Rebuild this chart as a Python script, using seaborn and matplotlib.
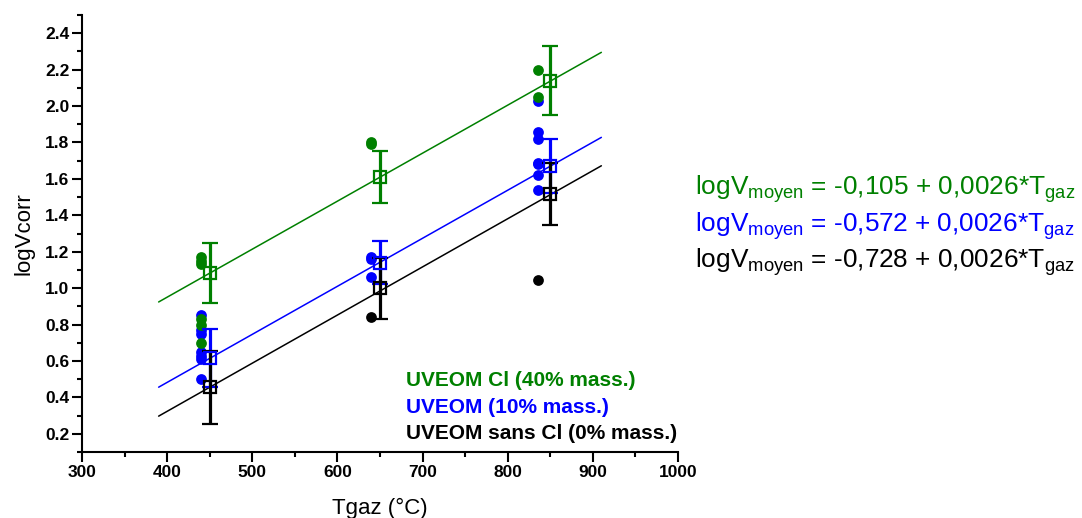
import numpy as np
import pandas as pd
import matplotlib
matplotlib.use('Agg')
import matplotlib.pyplot as plt
import seaborn as sns
from matplotlib.ticker import MultipleLocator

# ---------------- data ----------------
# individual measurements
temp_green = [440, 440, 440, 440, 440, 440, 640, 640, 835, 835]
logv_green = [1.17, 1.15, 1.13, 0.83, 0.80, 0.70, 1.80, 1.79, 2.20, 2.05]

temp_blue = [440, 440, 440, 440, 440, 440, 440, 640, 640, 640,
             835, 835, 835, 835, 835, 835, 835]
logv_blue = [0.85, 0.77, 0.75, 0.65, 0.63, 0.61, 0.50, 1.17, 1.16, 1.06,
             2.03, 1.86, 1.82, 1.69, 1.68, 1.62, 1.54]

temp_black = [640, 835]
logv_black = [0.84, 1.045]

# mean values with error bars
temp_mean = [450, 650, 850]
mean_green = [1.085, 1.61, 2.14]
err_green = [0.165, 0.145, 0.19]
mean_blue = [0.616, 1.14, 1.67]
err_blue = [0.16, 0.12, 0.148]
mean_black = [0.456, 1.0, 1.515]
err_black = [0.20, 0.168, 0.17]

# fitted lines (end points)
fit_temp = [390, 910]
fit_green = [0.924, 2.295]
fit_blue = [0.456, 1.828]
fit_black = [0.297, 1.672]

series_labels = ["UVEOM Cl (40% mass.)", "UVEOM (10% mass.)", "UVEOM sans Cl (0% mass.)"]
equations = [r"logV$_{\mathrm{moyen}}$ = -0,105 + 0,0026*T$_{\mathrm{gaz}}$",
             r"logV$_{\mathrm{moyen}}$ = -0,572 + 0,0026*T$_{\mathrm{gaz}}$",
             r"logV$_{\mathrm{moyen}}$ = -0,728 + 0,0026*T$_{\mathrm{gaz}}$"]
x_ticks = [300, 400, 500, 600, 700, 800, 900, 1000]
y_ticks = [0.2, 0.4, 0.6, 0.8, 1.0, 1.2, 1.4, 1.6, 1.8, 2.0, 2.2, 2.4]

GREEN = '#008000'
BLUE = '#0000FF'
BLACK = '#000000'

# ---------------- style ----------------
sns.set_theme(style='ticks')
plt.rcParams['font.family'] = ['Liberation Sans', 'DejaVu Sans']
plt.rcParams['mathtext.fontset'] = 'custom'
plt.rcParams['mathtext.rm'] = 'Liberation Sans'
plt.rcParams['mathtext.it'] = 'Liberation Sans:italic'
plt.rcParams['mathtext.bf'] = 'Liberation Sans:bold'
plt.rcParams['text.color'] = 'black'
plt.rcParams['axes.labelcolor'] = 'black'
plt.rcParams['xtick.color'] = 'black'
plt.rcParams['ytick.color'] = 'black'

fig = plt.figure(figsize=(10.82, 5.18), dpi=100)
ax = fig.add_axes([0.0758, 0.1274, 0.5508, 0.8436])

# fit lines
for yv, c in [(fit_green, GREEN), (fit_blue, BLUE), (fit_black, BLACK)]:
    sns.lineplot(x=fit_temp, y=yv, color=c, lw=1.1, ax=ax, zorder=2)

# raw points
df_blue = pd.DataFrame({'T': temp_blue, 'v': logv_blue})
df_black = pd.DataFrame({'T': temp_black, 'v': logv_black})
df_green = pd.DataFrame({'T': temp_green, 'v': logv_green})
for df, c in [(df_blue, BLUE), (df_black, BLACK), (df_green, GREEN)]:
    sns.scatterplot(data=df, x='T', y='v', color=c, s=60, linewidth=0,
                    ax=ax, zorder=3)

# means with error bars
for m, e, c in [(mean_blue, err_blue, BLUE), (mean_black, err_black, BLACK),
                (mean_green, err_green, GREEN)]:
    ax.errorbar(temp_mean, m, yerr=e, fmt='s', mfc='none', mec=c, ms=8,
                mew=1.6, ecolor=c, elinewidth=2.3, capsize=6, capthick=2.3,
                zorder=4)

# axes
ax.set_xlim(300, 1000)
ax.set_ylim(0.1, 2.5)
ax.set_xticks(x_ticks)
ax.set_yticks(y_ticks)
ax.xaxis.set_minor_locator(MultipleLocator(50))
ax.yaxis.set_minor_locator(MultipleLocator(0.1))
ax.set_yticklabels([f"{t:.1f}" for t in y_ticks])
ax.tick_params(which='major', direction='out', length=7, width=1.5,
               labelsize=12.5, pad=2, colors='black')
ax.tick_params(which='minor', direction='out', length=3.5, width=1.5,
               colors='black')
for lab in ax.get_xticklabels() + ax.get_yticklabels():
    lab.set_fontweight('bold')
sns.despine(ax=ax)
for s in ['left', 'bottom']:
    ax.spines[s].set_linewidth(1.5)
    ax.spines[s].set_color('black')

ax.set_xlabel("Tgaz (°C)", fontsize=16, labelpad=13, color='black')
ax.set_ylabel("logVcorr", fontsize=16, labelpad=8, color='black')

# in-plot legend text
for lab, yv, c in zip(series_labels, [0.494, 0.346, 0.203], [GREEN, BLUE, BLACK]):
    ax.text(680, yv, lab, color=c, fontsize=15, fontweight='bold',
            va='center', ha='left')

# equations
for eq, yb, c in zip(equations, [195, 231.7, 268.3], [GREEN, BLUE, BLACK]):
    fig.text(695 / 1082, (518 - yb) / 518, eq, color=c, fontsize=18.9,
             va='baseline', ha='left')

fig.savefig('out.png', dpi=100)
